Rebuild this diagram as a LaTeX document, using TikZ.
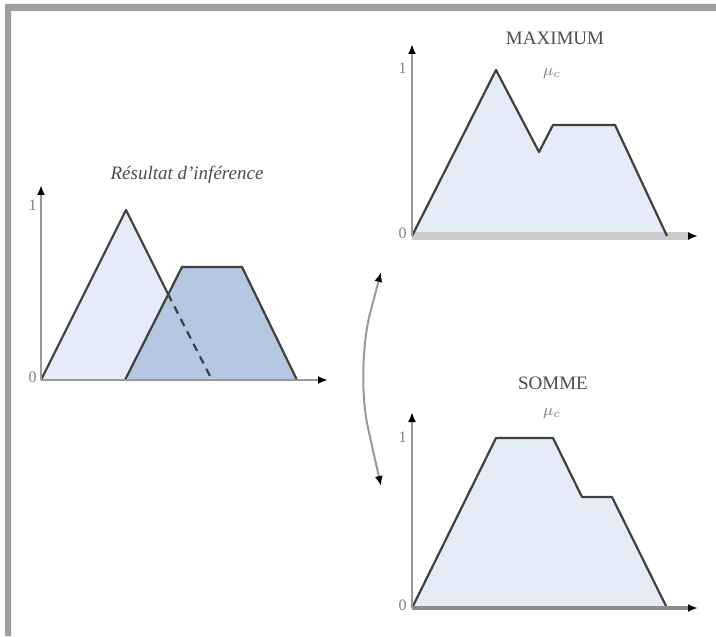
\documentclass[tikz,border=0pt]{standalone}
\usepackage{fontspec}
\setmainfont{Liberation Serif}
\usetikzlibrary{arrows.meta}
\definecolor{fuzlight}{HTML}{E6ECF7}
\definecolor{fuzdark}{HTML}{B5C7E1}
\definecolor{fuzline}{HTML}{404040}

\begin{document}
\begin{tikzpicture}[x=.5pt,y=-.5pt,>={Latex[length=5pt,width=4pt,color=black]},
 ax/.style={draw=gray!80,line width=1.2pt,->},
 mf/.style={draw=fuzline,line width=1.1pt,line join=round},
 lbl/.style={font=\fontsize{8}{9}\selectfont,text=gray,inner sep=1pt},
 ttl/.style={font=\fontsize{9.5}{10}\selectfont,text=black!70,inner sep=1pt}]
 \useasboundingbox (0,0) rectangle (716,636);
 \fill[gray!75] (5,4) rectangle (716,11) (5,4) rectangle (11,636);
 % resultat d'inference
 \coordinate (oa) at (41,380);
 \fill[fuzlight] (oa) -- (126,210) -- (212,380) -- cycle;
 \fill[fuzdark] (125,380) -- (182,267) -- (242,267) -- (297,380) -- cycle;
 \draw[mf] (oa) -- (126,210) -- (168,294);
 \draw[mf,dash pattern=on 4pt off 3pt] (168,294) -- (212,380);
 \draw[mf] (125,380) -- (182,267) -- (242,267) -- (297,380);
 \draw[ax] (oa) -- (41,185);
 \draw[ax] (oa) -- (328,380);
 \node[lbl,left] (ua) at (39,205) {1};
 \node[lbl,left] (za) at (39,377) {0};
 \node[ttl,font=\fontsize{9.5}{10}\selectfont\itshape] (ta) at (187,175) {Résultat d'inférence};
 % maximum
 \coordinate (ob) at (412,236);
 \fill[fuzlight] (ob) -- (496,70) -- (539,152) -- (553,125) -- (615,125) -- (667,236) -- cycle;
 \draw[gray!40,line width=4pt] (ob) -- (690,236);
 \draw[mf] (ob) -- (496,70) -- (539,152) -- (553,125) -- (615,125) -- (667,236);
 \draw[ax] (ob) -- (412,44);
 \draw[ax,draw=gray!40] (680,236) -- (698,236);
 \node[lbl,left] (ub) at (409,68) {1};
 \node[lbl,left] (zb) at (409,233) {0};
 \node[ttl] (tb) at (555,38) {MAXIMUM};
 \node[lbl] (mb) at (552,74) {$\mu_c$};
 % somme
 \coordinate (oc) at (412,608);
 \fill[fuzlight] (oc) -- (496,438) -- (553,438) -- (582,497) -- (612,497) -- (667,608) -- cycle;
 \draw[mf] (oc) -- (496,438) -- (553,438) -- (582,497) -- (612,497) -- (667,608);
 \draw[ax,draw=gray!90,line width=1.6pt] (oc) -- (698,608);
 \draw[ax] (oc) -- (412,412);
 \node[lbl,left] (uc) at (409,437) {1};
 \node[lbl,left] (zc) at (409,605) {0};
 \node[ttl] (tc) at (553,383) {SOMME};
 \node[lbl] (mc) at (552,414) {$\mu_c$};
 % deux methodes
 \coordinate (up) at (381,272);
 \coordinate (mid) at (355,370);
 \coordinate (dn) at (381,486);
 \draw[<->,gray!80,line width=1pt,rounded corners=30pt] (up) -- (mid) -- (dn);
\end{tikzpicture}
\end{document}
